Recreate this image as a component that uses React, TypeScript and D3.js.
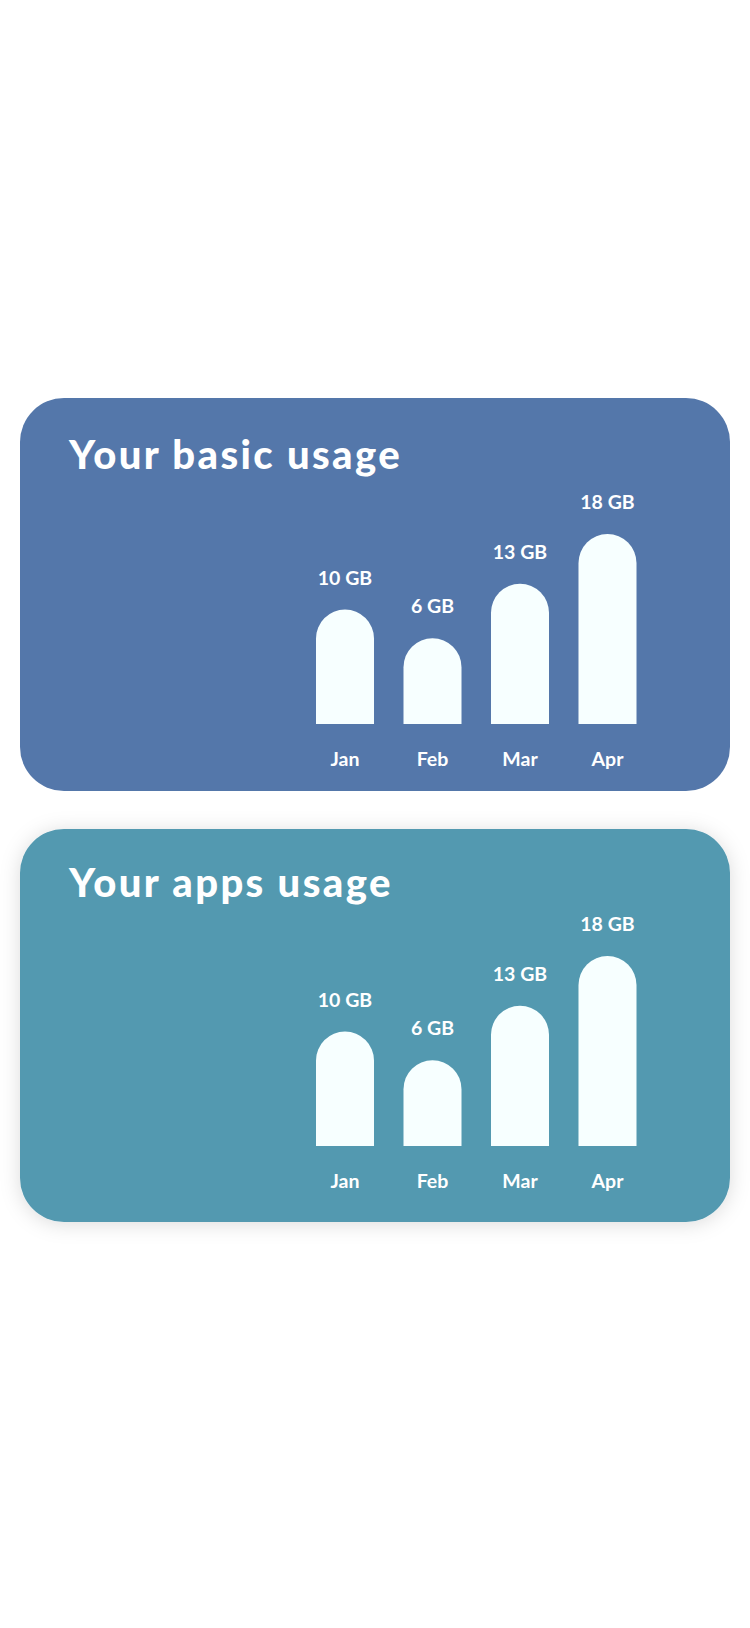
import React, { useEffect, useRef } from 'react';
import * as d3 from 'd3';

const months = ['Jan', 'Feb', 'Mar', 'Apr'];
const basicUsage = [10, 6, 13, 18];
const appsUsage = [10, 6, 13, 18];
const titles = ['Your basic usage', 'Your apps usage'];
const unit = 'GB';

const W = 750;
const H = 1628;

// card boxes; shift = small vertical nudge of the card content
const cards = [
  { title: titles[0], values: basicUsage, y: 398, color: '#5477aa', shadow: false, titleShift: 0, chartShift: 0 },
  { title: titles[1], values: appsUsage, y: 829, color: '#5399b0', shadow: true, titleShift: -3, chartShift: -9 },
];

function UsageCards() {
  const svgRef = useRef<SVGSVGElement>(null);

  useEffect(() => {
    const svg = d3.select(svgRef.current);
    svg.selectAll('*').remove();

    const defs = svg.append('defs');
    const f = defs.append('filter').attr('id', 'cardShadow')
      .attr('x', '-20%').attr('y', '-20%').attr('width', '140%').attr('height', '140%');
    f.append('feDropShadow').attr('dx', 0).attr('dy', 2).attr('stdDeviation', 10)
      .attr('flood-color', '#000').attr('flood-opacity', 0.14);

    const x = d3.scaleBand().domain(months).range([316, 636.5]).paddingInner(0.337).paddingOuter(0);

    cards.forEach(card => {
      const g = svg.append('g');
      g.append('rect')
        .attr('x', 20).attr('y', card.y)
        .attr('width', 710).attr('height', 393)
        .attr('rx', 44).attr('ry', 44)
        .attr('fill', card.color)
        .attr('filter', card.shadow ? 'url(#cardShadow)' : null);

      g.append('text')
        .attr('x', 69).attr('y', card.y + 71 + card.titleShift)
        .attr('fill', '#fff')
        .attr('font-family', 'Lato, sans-serif')
        .attr('font-weight', 900)
        .attr('font-size', 40)
        .attr('letter-spacing', 2.4)
        .text(card.title);

      const base = card.y + 326 + card.chartShift;
      const y = d3.scalePow().exponent(1.5)
        .domain([0, d3.max(card.values) as number])
        .range([base - 61, base - 190]);

      const bw = x.bandwidth();
      const r = bw / 2;

      const bars = g.selectAll('g.bar').data(card.values).enter().append('g').attr('class', 'bar');

      bars.append('path')
        .attr('d', (d, i) => {
          const x0 = x(months[i]) as number;
          const top = y(d);
          return `M${x0},${base}L${x0},${top + r}A${r},${r} 0 0 1 ${x0 + bw},${top + r}L${x0 + bw},${base}Z`;
        })
        .attr('fill', '#f7ffff');

      bars.append('text')
        .attr('x', (d, i) => (x(months[i]) as number) + r)
        .attr('y', d => y(d) - 25)
        .attr('text-anchor', 'middle')
        .attr('fill', '#fff')
        .attr('font-family', 'Lato, sans-serif')
        .attr('font-weight', 700)
        .attr('font-size', 19.5)
        .text(d => `${d} ${unit}`);

      bars.append('text')
        .attr('x', (d, i) => (x(months[i]) as number) + r)
        .attr('y', base + 42)
        .attr('text-anchor', 'middle')
        .attr('fill', '#fff')
        .attr('font-family', 'Lato, sans-serif')
        .attr('font-weight', 700)
        .attr('font-size', 19.5)
        .text((d, i) => months[i]);
    });
  }, []);

  return <svg ref={svgRef} width={W} height={H} style={{ display: 'block' }}></svg>;
}

export default function App() {
  return (
    <div style={{ position: 'absolute', left: 0, top: 0, width: W, height: H, background: '#fff' }}>
      <UsageCards />
    </div>
  );
}
